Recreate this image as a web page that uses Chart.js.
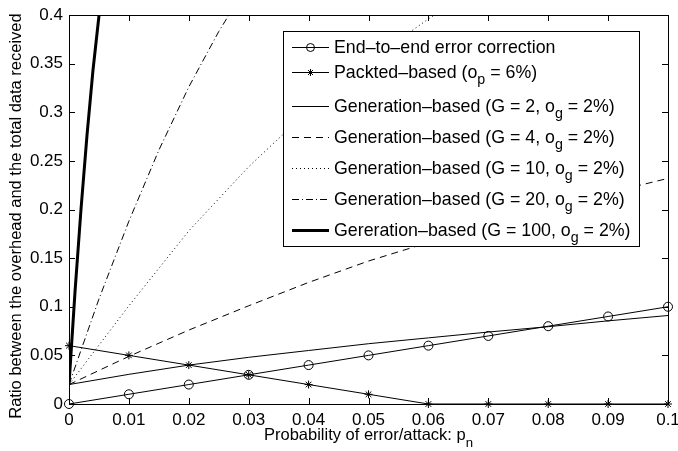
<!DOCTYPE html>
<html>
<head>
<meta charset="utf-8">
<script src="https://cdn.jsdelivr.net/npm/chart.js@4.4.1/dist/chart.umd.min.js"></script>
<style>
  html, body { margin: 0; padding: 0; background: #fff; }
  canvas { display: block; }
</style>
</head>
<body>
<canvas id="chart" width="678" height="451"></canvas>
<script>
// Probability of error/attack (x values)
const pn = [0, 0.01, 0.02, 0.03, 0.04, 0.05, 0.06, 0.07, 0.08, 0.09, 0.1];
const pnG10 = [0, 0.01, 0.02, 0.03, 0.04, 0.05, 0.06, 0.07];
const pnG20 = [0, 0.005, 0.01, 0.015, 0.02, 0.025, 0.03];
const pnG100 = [0, 0.001, 0.002, 0.003, 0.004, 0.005, 0.006];

// Ratio between the overhead and the total data received
const endToEnd = [0, 0.01, 0.02, 0.03, 0.04, 0.05, 0.06, 0.07, 0.08, 0.09, 0.1];
const packetBased = [0.06, 0.05, 0.04, 0.03, 0.02, 0.01, 0, 0, 0, 0, 0];
const gen2 = [0.02, 0.0305, 0.04, 0.048, 0.055, 0.062, 0.068, 0.074, 0.0795, 0.0855, 0.091];
const gen4 = [0.02, 0.049, 0.076, 0.101, 0.125, 0.147, 0.166, 0.184, 0.201, 0.217, 0.232];
const gen10 = [0.02, 0.101, 0.178, 0.244, 0.302, 0.352, 0.396, 0.436];
const gen20 = [0.02, 0.108, 0.188, 0.261, 0.326, 0.383, 0.433];
const gen100 = [0.02, 0.115, 0.2, 0.276, 0.343, 0.399, 0.447];

// Tick labels
const xTicks = [0, 0.01, 0.02, 0.03, 0.04, 0.05, 0.06, 0.07, 0.08, 0.09, 0.1];
const yTicks = [0, 0.05, 0.1, 0.15, 0.2, 0.25, 0.3, 0.35, 0.4];

const seriesLabels = [
    'End–to–end error correction',
    'Packted–based (o_p = 6%)',
    'Generation–based (G = 2, o_g = 2%)',
    'Generation–based (G = 4, o_g = 2%)',
    'Generation–based (G = 10, o_g = 2%)',
    'Generation–based (G = 20, o_g = 2%)',
    'Gereration–based (G = 100, o_g = 2%)'
];

const FONT = "'Liberation Sans', Arial, sans-serif";
const TICK_SIZE = 17;
const TITLE_SIZE = 16.5;
const LEGEND_SIZE = 17.8;

function toPoints(xs, ys) {
    return xs.map((x, i) => ({ x: x, y: ys[i] }));
}

// Text with "_x" subscripts
function drawRich(ctx, text, x, y, size, align) {
    const parts = text.split(/(_.)/).filter(s => s.length);
    const subSize = size * 0.8;
    let total = 0;
    const widths = parts.map(p => {
        const sub = p[0] === '_';
        ctx.font = (sub ? subSize : size) + 'px ' + FONT;
        const w = ctx.measureText(sub ? p.slice(1) : p).width;
        total += w;
        return w;
    });
    let cx = align === 'center' ? x - total / 2 : x;
    parts.forEach((p, i) => {
        const sub = p[0] === '_';
        ctx.font = (sub ? subSize : size) + 'px ' + FONT;
        ctx.fillText(sub ? p.slice(1) : p, cx, sub ? y + size * 0.42 : y);
        cx += widths[i];
    });
}

// Box, inward ticks, axis titles, legend
const matlabStyle = {
    id: 'matlabStyle',
    afterDatasetsDraw(chart) {
        const ctx = chart.ctx;
        const area = chart.chartArea;
        const xs = chart.scales.x;
        const ys = chart.scales.y;
        ctx.save();
        ctx.strokeStyle = '#000';
        ctx.fillStyle = '#000';
        ctx.lineWidth = 1;
        ctx.setLineDash([]);
        ctx.beginPath();
        xTicks.forEach(v => {
            const px = Math.round(xs.getPixelForValue(v)) + 0.5;
            ctx.moveTo(px, area.bottom); ctx.lineTo(px, area.bottom - 6);
            ctx.moveTo(px, area.top); ctx.lineTo(px, area.top + 6);
        });
        yTicks.forEach(v => {
            const py = Math.round(ys.getPixelForValue(v)) + 0.5;
            ctx.moveTo(area.left, py); ctx.lineTo(area.left + 6, py);
            ctx.moveTo(area.right, py); ctx.lineTo(area.right - 6, py);
        });
        ctx.stroke();
        ctx.strokeRect(Math.round(area.left) + 0.5, Math.round(area.top) + 0.5,
            Math.round(area.right - area.left), Math.round(area.bottom - area.top));

        // axis titles
        ctx.textBaseline = 'alphabetic';
        drawRich(ctx, 'Probability of error/attack: p_n', (area.left + area.right) / 2, 440, TITLE_SIZE, 'center');
        ctx.save();
        ctx.translate(21, 216);
        ctx.rotate(-Math.PI / 2);
        drawRich(ctx, 'Ratio between the overhead and the total data received', 0, 0, TITLE_SIZE, 'center');
        ctx.restore();

        // legend
        const box = { left: 283.5, top: 31.5, right: 639.5, bottom: 246.5 };
        const rowY = [47, 72, 106, 137, 168, 199, 230];
        ctx.fillStyle = '#fff';
        ctx.fillRect(box.left, box.top, box.right - box.left, box.bottom - box.top);
        ctx.strokeRect(box.left, box.top, box.right - box.left, box.bottom - box.top);
        chart.data.datasets.forEach((ds, i) => {
            const y = rowY[i] + 0.5;
            ctx.strokeStyle = ds.borderColor;
            ctx.lineWidth = ds.borderWidth;
            ctx.setLineDash(ds.borderDash || []);
            ctx.beginPath();
            ctx.moveTo(292, y); ctx.lineTo(329, y);
            ctx.stroke();
            ctx.setLineDash([]);
            if (ds.pointRadius > 0) {
                ctx.fillStyle = 'rgba(0,0,0,0)';
                ctx.lineWidth = 1;
                Chart.helpers.drawPoint(ctx, { pointStyle: ds.pointStyle, radius: ds.pointRadius - 0.5, borderWidth: 1, rotation: 0 }, 310.5, y);
            }
            ctx.fillStyle = '#000';
            ctx.textBaseline = 'middle';
            drawRich(ctx, ds.label, 334, rowY[i] + 1, LEGEND_SIZE, 'left');
        });
        ctx.restore();
    }
};

const lineBase = {
    borderColor: '#000',
    backgroundColor: 'rgba(0,0,0,0)',
    borderWidth: 1,
    pointRadius: 0,
    tension: 0,
    fill: false
};

new Chart(document.getElementById('chart'), {
    type: 'line',
    data: {
        datasets: [
            Object.assign({}, lineBase, {
                label: seriesLabels[0], data: toPoints(pn, endToEnd),
                pointStyle: 'circle', pointRadius: 4.5, pointBorderColor: '#000',
                pointBackgroundColor: 'rgba(0,0,0,0)', pointBorderWidth: 1, clip: false
            }),
            Object.assign({}, lineBase, {
                label: seriesLabels[1], data: toPoints(pn, packetBased),
                pointStyle: 'star', pointRadius: 4, pointBorderColor: '#000',
                pointBorderWidth: 1, clip: false
            }),
            Object.assign({}, lineBase, { label: seriesLabels[2], data: toPoints(pn, gen2) }),
            Object.assign({}, lineBase, { label: seriesLabels[3], data: toPoints(pn, gen4), borderDash: [7, 5] }),
            Object.assign({}, lineBase, { label: seriesLabels[4], data: toPoints(pnG10, gen10), borderDash: [1, 3] }),
            Object.assign({}, lineBase, { label: seriesLabels[5], data: toPoints(pnG20, gen20), borderDash: [7, 3, 1, 3] }),
            Object.assign({}, lineBase, { label: seriesLabels[6], data: toPoints(pnG100, gen100), borderWidth: 3 })
        ]
    },
    options: {
        responsive: false,
        animation: false,
        layout: { padding: { top: 15, right: 10, left: 0, bottom: 0 } },
        plugins: {
            legend: { display: false },
            tooltip: { enabled: false }
        },
        scales: {
            x: {
                type: 'linear',
                min: 0,
                max: 0.1,
                afterBuildTicks: s => { s.ticks = xTicks.map(v => ({ value: v })); },
                afterFit: s => { s.height = 47; s.paddingLeft = 0; s.paddingRight = 0; },
                grid: { display: false, drawTicks: false },
                border: { display: false },
                ticks: {
                    padding: 6, color: '#000', maxRotation: 0, autoSkip: false,
                    font: { family: FONT, size: TICK_SIZE },
                    callback: v => String(+v.toFixed(2))
                }
            },
            y: {
                type: 'linear',
                min: 0,
                max: 0.4,
                afterBuildTicks: s => { s.ticks = yTicks.map(v => ({ value: v })); },
                afterFit: s => { s.width = 69; s.paddingTop = 0; s.paddingBottom = 0; },
                grid: { display: false, drawTicks: false },
                border: { display: false },
                ticks: {
                    padding: 6, color: '#000', autoSkip: false,
                    font: { family: FONT, size: TICK_SIZE },
                    callback: v => String(+v.toFixed(2))
                }
            }
        }
    },
    plugins: [matlabStyle]
});
</script>
</body>
</html>
